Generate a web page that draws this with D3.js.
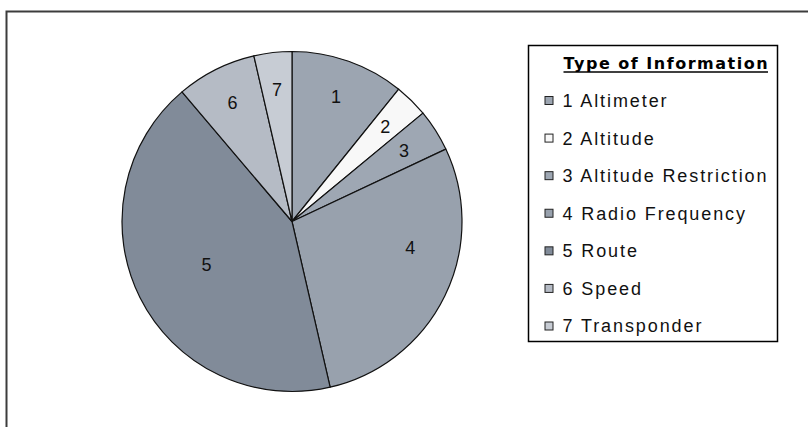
<!DOCTYPE html>
<html>
<head>
<meta charset="utf-8">
<script src="https://cdn.jsdelivr.net/npm/d3@7"></script>
<style>
  html, body { margin: 0; padding: 0; background: #fff; }
  svg { display: block; }
  .lbl { font-family: "Liberation Sans", Arial, sans-serif; font-size: 18px; letter-spacing: 1.9px; fill: #111; }
  .ttl { font-family: "DejaVu Sans", sans-serif; font-weight: bold; font-size: 16px; letter-spacing: 1.5px; fill: #000; }
</style>
</head>
<body>
<div id="chart"></div>
<script>
// --- Data ---
const ids = ['1', '2', '3', '4', '5', '6', '7'];
const names = ['Altimeter', 'Altitude', 'Altitude Restriction', 'Radio Frequency', 'Route', 'Speed', 'Transponder'];
const counts = [27, 8, 10, 71, 106, 19, 9];
const colors = ['#9ca5b1', '#f8f8f8', '#9ea7b3', '#98a1ad', '#818b99', '#b5bbc5', '#c7ccd4'];
const legendTitle = 'Type of Information';

// --- Layout ---
const width = 808, height = 427;
const cx = 292, cy = 221.5, R = 170;

const svg = d3.select('#chart').append('svg').attr('width', width).attr('height', height);

// outer frame (only top + left edges visible in the window)
svg.append('path')
  .attr('d', `M6.5,${height} L6.5,11.5 L${width},11.5`)
  .attr('fill', 'none')
  .attr('stroke', '#3c3c3c')
  .attr('stroke-width', 2);

const slices = d3.pie().sort(null).value(d => d.v)(counts.map((v, i) => ({ v, i })));
const arc = d3.arc().innerRadius(0).outerRadius(R);

const g = svg.append('g').attr('transform', `translate(${cx},${cy})`);

g.selectAll('path.slice')
  .data(slices)
  .join('path')
  .attr('class', 'slice')
  .attr('d', arc)
  .attr('fill', d => colors[d.data.i])
  .attr('stroke', '#111')
  .attr('stroke-width', 1.2)
  .attr('stroke-linejoin', 'round');

// labels: big slices get pulled toward the centre (and a bit toward the start), like Excel's best fit
function labelPos(d) {
  const span = (d.endAngle - d.startAngle) * 180 / Math.PI;
  const f = 0.78 - Math.max(0, span - 80) * 0.003;
  const a = d.startAngle + (d.endAngle - d.startAngle) * (span > 80 && span < 120 ? 0.37 : 0.5);
  return [Math.sin(a) * R * f, -Math.cos(a) * R * f];
}

g.selectAll('text.num')
  .data(slices)
  .join('text')
  .attr('class', 'lbl num')
  .attr('x', d => labelPos(d)[0])
  .attr('y', d => labelPos(d)[1])
  .attr('dy', '0.35em')
  .attr('text-anchor', 'middle')
  .style('letter-spacing', '0px')
  .text(d => ids[d.data.i]);

// --- Legend ---
const lg = svg.append('g').attr('transform', 'translate(528.5,45.5)');
lg.append('rect')
  .attr('width', 249).attr('height', 296)
  .attr('fill', '#fff').attr('stroke', '#000').attr('stroke-width', 1.5);

const title = lg.append('text')
  .attr('class', 'ttl')
  .attr('x', 35).attr('y', 23)
  .text(legendTitle);
const tw = title.node().getComputedTextLength();
lg.append('line')
  .attr('x1', 35).attr('x2', 35 + tw - 1)
  .attr('y1', 26.5).attr('y2', 26.5)
  .attr('stroke', '#000').attr('stroke-width', 1.5);

const y = d3.scalePoint().domain(ids).range([55, 280.5]);

const items = lg.selectAll('g.item')
  .data(ids)
  .join('g')
  .attr('class', 'item')
  .attr('transform', d => `translate(0,${y(d)})`);

items.append('rect')
  .attr('x', 16.5).attr('y', -4)
  .attr('width', 8).attr('height', 8)
  .attr('fill', (d, i) => colors[i])
  .attr('stroke', '#222').attr('stroke-width', 1);

items.append('text')
  .attr('class', 'lbl')
  .attr('x', 34).attr('dy', '0.36em')
  .text((d, i) => `${d} ${names[i]}`);
</script>
</body>
</html>
